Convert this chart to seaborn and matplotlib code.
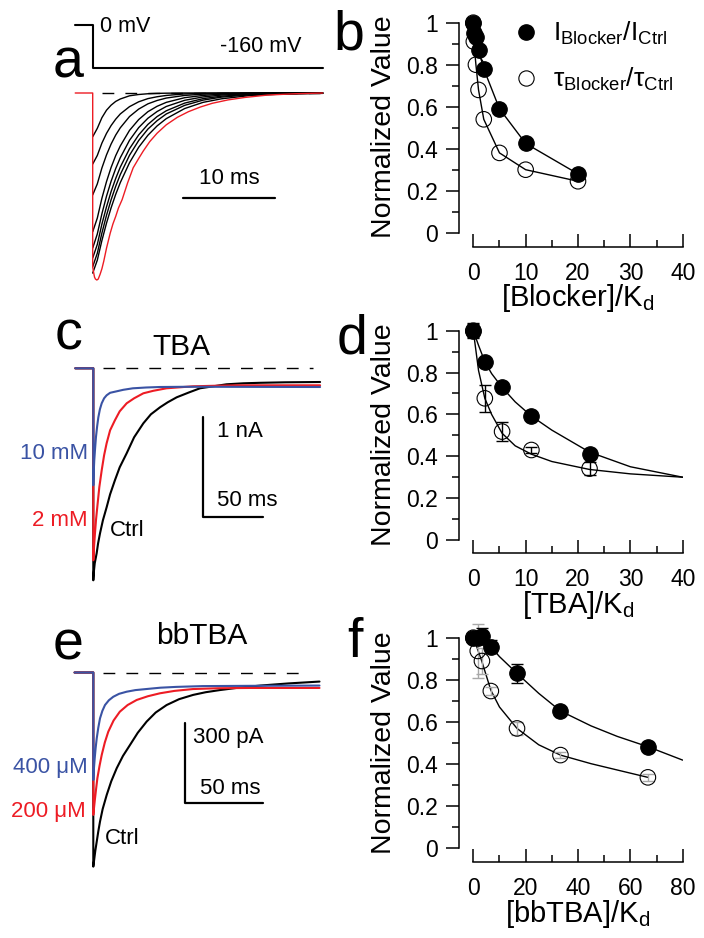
import numpy as np
import matplotlib
matplotlib.use('Agg')
import matplotlib.pyplot as plt
from matplotlib.lines import Line2D
import seaborn as sns

# ---- panel a: voltage step and simulated tail currents (normalised), ms ----
a_step_t = [-1.9, 0, 0, 25]
a_step_mv = [0, 0, -160, -160]
a_t = [0, 0.5, 1, 1.5, 2, 2.5, 3, 4, 5, 6, 7, 8, 10, 12, 14, 17, 20, 25]
a_blocked = [
    [-0.234, -0.189, -0.132, -0.092, -0.065, -0.045, -0.032, -0.015, -0.008, -0.004, -0.002, -0.001, 0, 0, 0, 0, 0, 0],
    [-0.38, -0.334, -0.268, -0.216, -0.174, -0.140, -0.112, -0.073, -0.047, -0.030, -0.020, -0.013, -0.005, -0.002, -0.001, 0, 0, 0],
    [-0.545, -0.486, -0.401, -0.331, -0.273, -0.225, -0.186, -0.126, -0.086, -0.058, -0.040, -0.027, -0.013, -0.006, -0.003, -0.001, 0, 0],
    [-0.742, -0.669, -0.563, -0.474, -0.398, -0.335, -0.283, -0.200, -0.142, -0.100, -0.071, -0.050, -0.025, -0.013, -0.006, -0.002, -0.001, 0],
    [-0.829, -0.754, -0.646, -0.552, -0.472, -0.404, -0.346, -0.253, -0.185, -0.135, -0.099, -0.072, -0.039, -0.021, -0.011, -0.004, -0.002, 0],
    [-0.882, -0.810, -0.701, -0.609, -0.527, -0.457, -0.396, -0.298, -0.224, -0.168, -0.126, -0.095, -0.054, -0.030, -0.017, -0.007, -0.003, -0.001],
    [-0.929, -0.857, -0.749, -0.654, -0.571, -0.499, -0.436, -0.333, -0.254, -0.193, -0.148, -0.112, -0.066, -0.038, -0.022, -0.010, -0.004, -0.001],
    [-0.963, -0.894, -0.789, -0.696, -0.614, -0.542, -0.479, -0.373, -0.290, -0.226, -0.176, -0.137, -0.083, -0.050, -0.031, -0.014, -0.007, -0.002],
]
a_ctrl_t = [-1.9, 0, 0, 0.1, 0.2, 0.3, 0.45, 0.6, 0.8, 1.0, 1.2, 1.5, 1.9, 2.2, 2.5, 2.8, 3.2,
            3.8, 4.4, 5.0, 5.5, 6.2, 7, 8, 9.2, 10.4, 11.7, 13, 14.7, 16.5, 19, 22, 25]
a_ctrl = [0, 0, -0.93, -0.96, -0.985, -0.995, -1.0, -0.995, -0.97, -0.94, -0.9, -0.83, -0.75, -0.70,
          -0.66, -0.615, -0.57, -0.48, -0.40, -0.35, -0.31, -0.26, -0.215, -0.17, -0.13, -0.10,
          -0.075, -0.055, -0.037, -0.024, -0.011, -0.004, 0]

# ---- panel c: TBA currents, nA vs ms ----
c_ctrl_t = [-15, 0, 0, 0.5, 1.2, 2.8, 4, 5.6, 8, 11.1, 14, 18, 22, 27.8, 34, 41.7, 48, 55.6,
            62, 69.5, 80, 88.9, 100, 111, 125, 139, 160, 189]
c_ctrl = [0, 0, -2.12, -2.03, -1.95, -1.85, -1.75, -1.65, -1.52, -1.39, -1.26, -1.12, -0.99,
          -0.85, -0.69, -0.55, -0.46, -0.39, -0.34, -0.29, -0.24, -0.20, -0.18, -0.16, -0.15,
          -0.145, -0.14, -0.137]
c_2mM_t = [-15, 0, 0, 0.5, 1.4, 2.3, 3.3, 5, 7, 9, 11.1, 14, 18, 22, 27.8, 34, 41.7, 50, 61,
           72, 83, 100, 120, 150, 189]
c_2mM = [0, 0, -1.92, -1.80, -1.65, -1.51, -1.39, -1.19, -1.02, -0.87, -0.75, -0.62, -0.52,
         -0.43, -0.35, -0.30, -0.25, -0.225, -0.20, -0.19, -0.18, -0.175, -0.17, -0.17, -0.17]
c_10mM_t = [-15, 0, 0, 0.3, 0.8, 1.5, 2.2, 3.2, 4.2, 5.5, 7, 9, 11.1, 14, 19.5, 25, 33, 44,
            55.6, 75, 100, 140, 189]
c_10mM = [0, 0, -1.17, -1.05, -0.92, -0.80, -0.69, -0.58, -0.49, -0.41, -0.35, -0.30, -0.27,
          -0.245, -0.23, -0.215, -0.20, -0.192, -0.187, -0.185, -0.185, -0.186, -0.187]

# ---- panel e: bbTBA currents, pA vs ms ----
e_ctrl_t = [-12, 0, 0, 0.6, 1.3, 2.2, 3.2, 4.3, 6, 8.6, 11.5, 15, 19, 23.5, 28.5, 34.2, 40,
            47, 55, 64, 72, 81, 93, 107, 125, 145]
e_ctrl = [0, 0, -728, -700, -668, -634, -596, -559, -512, -459, -408, -359, -313, -272, -226,
          -184, -150, -122, -100, -84, -74, -66, -57, -49, -41, -34]
e_200_t = [-12, 0, 0, 0.5, 1.1, 1.8, 2.6, 4, 5.4, 7.4, 9.6, 13, 17, 22, 27.8, 35, 42.7, 52,
           64, 80, 100, 145]
e_200 = [0, 0, -534, -505, -472, -436, -397, -350, -309, -262, -222, -180, -147, -122, -103,
         -89, -78, -69, -62, -59, -58, -58]
e_400_t = [-12, 0, 0, 0.4, 0.9, 1.5, 2.2, 3.2, 4.3, 5.8, 7.5, 10, 12.8, 16.5, 21.4, 27, 34,
           43, 53, 70, 100, 145]
e_400 = [0, 0, -403, -360, -322, -283, -247, -207, -172, -144, -122, -104, -91, -80, -72, -66,
         -62, -57, -54, -51, -50, -49]

# ---- panel b ----
b_conc = [0, 0.1, 0.5, 1, 2, 5, 10, 20]
b_I = [1.0, 0.95, 0.93, 0.87, 0.78, 0.59, 0.425, 0.28]
b_tau = [1.0, 0.91, 0.80, 0.68, 0.54, 0.38, 0.30, 0.245]

# ---- panel d ----
d_conc = [0, 2.2, 5.5, 11.1, 22.2]
d_I = [1.0, 0.852, 0.729, 0.592, 0.411]
d_I_err = [0.035, 0.01, 0.01, 0.01, 0.01]
d_tau = [1.0, 0.677, 0.518, 0.43, 0.341]
d_tau_err = [0.03, 0.064, 0.046, 0.015, 0.03]
d_fit_x = [0, 1, 2.2, 3.5, 5.5, 8, 11.1, 15, 22.2, 30, 40]
d_fit_I = [1.0, 0.93, 0.852, 0.795, 0.729, 0.66, 0.592, 0.525, 0.42, 0.35, 0.30]
d_fit_tau = [1.0, 0.81, 0.677, 0.60, 0.51, 0.45, 0.41, 0.375, 0.337, 0.316, 0.30]

# ---- panel f ----
f_conc = [0, 1.7, 3.3, 6.7, 16.7, 33.3, 66.7]
f_I = [1.0, 1.0, 1.01, 0.957, 0.83, 0.651, 0.481]
f_I_err = [0.01, 0.03, 0.035, 0.03, 0.046, 0.02, 0.02]
f_tau = [1.0, 0.937, 0.889, 0.746, 0.568, 0.441, 0.335]
f_tau_err = [0, 0.13, 0.06, 0.02, 0.03, 0.015, 0.015]
f_fit_I_x = [0, 3.3, 6.7, 10, 16.7, 25, 33.3, 45, 55, 66.7, 80]
f_fit_I = [1.0, 0.99, 0.957, 0.91, 0.83, 0.735, 0.651, 0.58, 0.53, 0.481, 0.417]
f_fit_tau_x = [0, 1.5, 3.2, 6.7, 10, 16.7, 25, 33.3, 45, 55, 66.7]
f_fit_tau = [1.0, 0.95, 0.89, 0.75, 0.67, 0.568, 0.49, 0.441, 0.40, 0.37, 0.335]

BLUE = '#3a53a4'
RED = '#ed1c24'

sns.set_theme(style='ticks', rc={'axes.edgecolor': 'black', 'xtick.color': 'black',
                                 'ytick.color': 'black', 'text.color': 'black'})
plt.rcParams['font.family'] = ['Liberation Sans', 'DejaVu Sans']
plt.rcParams['mathtext.fontset'] = 'custom'
plt.rcParams['mathtext.rm'] = 'Liberation Sans'
plt.rcParams['mathtext.it'] = 'Liberation Sans:italic'
plt.rcParams['mathtext.default'] = 'regular'

W, H = 704, 938
fig = plt.figure(figsize=(7.04, 9.38), dpi=100)


def fx(x):
    return x / W


def fy(y):
    return 1 - y / H


def txt(x, y, s, **kw):
    fig.text(fx(x), fy(y), s, **kw)


def trace_axes(box, x_zero, x_scale, y_zero, y_scale):
    left, top, right, bottom = box
    ax = fig.add_axes([fx(left), fy(bottom), (right - left) / W, (bottom - top) / H])
    ax.set_xlim((left - x_zero) / x_scale, (right - x_zero) / x_scale)
    ax.set_ylim((y_zero - bottom) / y_scale, (y_zero - top) / y_scale)
    ax.axis('off')
    return ax


def trace(ax, t, v, color, lw=1.0, z=2):
    sns.lineplot(x=t, y=v, ax=ax, color=color, lw=lw, estimator=None, sort=False, zorder=z)


def value_axes(y_one, y_zero, spine_y, xmax, xstep):
    left, x0, x1 = 459.3, 473.3, 682.7
    sx = (x1 - x0) / xmax
    sy = y_zero - y_one
    ax = fig.add_axes([fx(left), fy(spine_y), (x1 - left) / W, (spine_y - y_one) / H])
    ax.patch.set_alpha(0)
    sns.despine(ax=ax)
    ax.spines['left'].set_bounds(0, 1)
    ax.spines['bottom'].set_bounds(0, xmax)
    for s in ['left', 'bottom']:
        ax.spines[s].set_linewidth(1.1)
    ax.set_yticks(np.arange(0, 1.01, 0.2))
    ax.set_yticklabels(['0', '0.2', '0.4', '0.6', '0.8', '1'])
    ax.set_yticks(np.arange(0.1, 1, 0.2), minor=True)
    ax.set_xticks(np.arange(0, xmax + 1, xstep))
    ax.set_xticks(np.arange(xstep / 2, xmax, xstep), minor=True)
    ax.tick_params(axis='y', which='both', direction='out', width=1.1, labelsize=16.5, pad=6)
    ax.tick_params(axis='y', which='major', length=9.4)
    ax.tick_params(axis='y', which='minor', length=5)
    ax.tick_params(axis='x', which='both', direction='in', width=1.1, labelsize=16.5, pad=10.5)
    ax.tick_params(axis='x', which='major', length=9.4)
    ax.tick_params(axis='x', which='minor', length=5)
    ax.set_xlim((left - x0) / sx, xmax)
    ax.set_ylim((y_zero - spine_y) / sy, 1)
    return ax


def points(ax, x, y, filled, z):
    sns.scatterplot(x=x, y=y, ax=ax, s=125, color='black', edgecolor='black',
                    linewidth=0.8, marker='o', zorder=z, clip_on=False, legend=False)
    if not filled:
        ax.collections[-1].set_facecolor('none')


def errs(ax, x, y, e, color='black'):
    ax.errorbar(x, y, yerr=e, fmt='none', ecolor=color, elinewidth=1, capsize=4.3,
                capthick=1, zorder=3, clip_on=False)


# ================= panel a =================
box_a = (40, 0, 340, 300)
ax_v = trace_axes(box_a, 92.7, 9.2, 25, 43 / 160)
trace(ax_v, a_step_t, a_step_mv, 'black', lw=1.5)
ax_a = trace_axes(box_a, 92.7, 9.2, 93, 187)
ax_a.plot([1, 25], [0, 0], color='black', lw=1, dashes=(8.5, 8), zorder=1)
for vals in a_blocked:
    trace(ax_a, a_t, vals, 'black', lw=1.0)
trace(ax_a, a_ctrl_t, a_ctrl, RED, lw=1.0, z=3)
ax_a.plot([9.85, 19.85], [-0.56, -0.56], color='black', lw=1.6)
txt(100, 26, '0 mV', fontsize=15.5, va='center')
txt(220, 46, '-160 mV', fontsize=15.5, va='center')
txt(229, 178, '10 ms', fontsize=16, ha='center', va='center')

# ================= panel c =================
ax_c = trace_axes((40, 300, 340, 600), 93.3, 1.2, 368.3, 100)
ax_c.plot([8, 183], [0, 0], color='black', lw=1, dashes=(8.5, 8), zorder=1)
trace(ax_c, c_ctrl_t, c_ctrl, 'black', lw=1.5, z=2)
trace(ax_c, c_2mM_t, c_2mM, RED, lw=1.5, z=3)
trace(ax_c, c_10mM_t, c_10mM, BLUE, lw=1.5, z=4)
ax_c.plot([91.4, 91.4, 141.4], [-0.487, -1.487, -1.487], color='black', lw=1.6)
txt(181, 347, 'TBA', fontsize=21.5, ha='center', va='center')
txt(217, 431, '1 nA', fontsize=16, va='center')
txt(217, 500, '50 ms', fontsize=16, va='center')
txt(88, 453, '10 mM', fontsize=16, ha='right', va='center', color=BLUE)
txt(88, 520, '2 mM', fontsize=16, ha='right', va='center', color=RED)
txt(110, 531, 'Ctrl', fontsize=16, va='center')

# ================= panel e =================
ax_e = trace_axes((40, 610, 340, 900), 93.3, 1.56, 672.5, 80 / 300)
ax_e.plot([6.2, 137.6], [0, 0], color='black', lw=1, dashes=(8.5, 8), zorder=1)
trace(ax_e, e_ctrl_t, e_ctrl, 'black', lw=1.5, z=2)
trace(ax_e, e_200_t, e_200, RED, lw=1.5, z=3)
trace(ax_e, e_400_t, e_400, BLUE, lw=1.5, z=4)
ax_e.plot([58.8, 58.8, 108.8], [-190.5, -490.5, -490.5], color='black', lw=1.6)
txt(202, 636, 'bbTBA', fontsize=21.5, ha='center', va='center')
txt(193, 737, '300 pA', fontsize=16, va='center')
txt(200, 788, '50 ms', fontsize=16, va='center')
txt(88, 767, '400 μM', fontsize=16, ha='right', va='center', color=BLUE)
txt(86, 812, '200 μM', fontsize=16, ha='right', va='center', color=RED)
txt(105, 838, 'Ctrl', fontsize=16, va='center')

# ================= panel b =================
ax_b = value_axes(22.7, 232.7, 247, 40, 10)
trace(ax_b, b_conc, b_I, 'black', lw=1.0)
trace(ax_b, b_conc, b_tau, 'black', lw=1.0)
points(ax_b, b_conc, b_tau, False, 4)
points(ax_b, b_conc, b_I, True, 5)
handles = [Line2D([], [], ls='none', marker='o', ms=11, mfc='black', mec='black'),
           Line2D([], [], ls='none', marker='o', ms=11, mfc='none', mec='black', mew=0.8)]
ax_b.legend(handles, [r'$I_{Blocker}/I_{Ctrl}$', r'$τ_{Blocker}/τ_{Ctrl}$'],
            loc='upper left', bbox_to_anchor=(fx(513), fy(20)), bbox_transform=fig.transFigure,
            frameon=False, fontsize=19, handlelength=1.0, handletextpad=0.5,
            labelspacing=0.72, borderpad=0, borderaxespad=0)

# ================= panel d =================
ax_d = value_axes(330.7, 540, 553.3, 40, 10)
errs(ax_d, d_conc, d_tau, d_tau_err)
errs(ax_d, d_conc, d_I, d_I_err)
trace(ax_d, d_fit_x, d_fit_I, 'black', lw=1.0)
trace(ax_d, d_fit_x, d_fit_tau, 'black', lw=1.0)
points(ax_d, d_conc, d_tau, False, 4)
points(ax_d, d_conc, d_I, True, 5)

# ================= panel f =================
ax_f = value_axes(637.7, 847.7, 862, 80, 20)
errs(ax_f, f_conc, f_tau, f_tau_err, color='#a8a8a8')
errs(ax_f, f_conc, f_I, f_I_err)
trace(ax_f, f_fit_I_x, f_fit_I, 'black', lw=1.0)
trace(ax_f, f_fit_tau_x, f_fit_tau, 'black', lw=1.0)
points(ax_f, f_conc, f_tau, False, 4)
points(ax_f, f_conc, f_I, True, 5)

# axis titles
for yc in [127, 435, 743]:
    txt(384, yc, 'Normalized Value', fontsize=20.5, rotation=90, ha='center', va='center')
txt(578, 306.5, r'$[Blocker]/K_d$', fontsize=21, ha='center', va='baseline')
txt(578, 612.8, r'$[TBA]/K_d$', fontsize=21, ha='center', va='baseline')
txt(578, 921.5, r'$[bbTBA]/K_d$', fontsize=21, ha='center', va='baseline')

# panel letters
for (lx, ly, s) in [(53, 77, 'a'), (333, 50, 'b'), (55, 350, 'c'),
                    (337, 353, 'd'), (53, 660, 'e'), (347, 657, 'f')]:
    txt(lx, ly, s, fontsize=40, va='baseline')

fig.savefig('out.png', dpi=100)
